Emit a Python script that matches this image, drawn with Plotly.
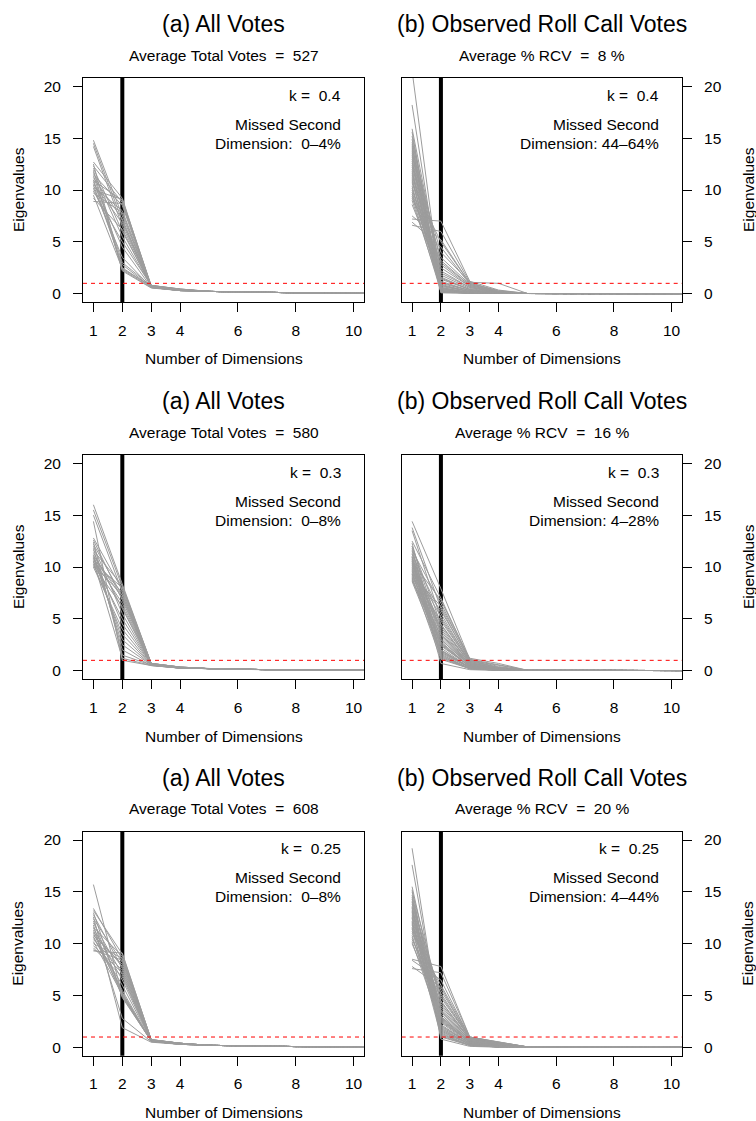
import plotly.graph_objects as go

# ---------------- data ----------------
X_DIMS = [1, 2, 3, 4, 5, 6, 7, 8, 9, 10, 11]
X_TICKS = [1, 2, 3, 4, 6, 8, 10]
Y_TICKS = [0, 5, 10, 15, 20]
CUTOFF_DIM = 2
KAISER = 1

# Row 1, left: All Votes, k = 0.4
P1_D1 = [14.8, 14.5, 14.2, 12.7, 12.5, 12.3, 12.1, 11.9, 11.7, 11.5, 11.4, 11.2, 11.0,
         10.9, 10.8, 10.6, 10.5, 10.3, 10.2, 10.0, 9.9, 9.7, 9.5, 9.2, 8.9]
P1_D2 = [7.5, 7.0, 6.5, 9.2, 2.3, 8.8, 6.0, 2.2, 5.5, 8.5, 3.0, 7.2, 2.5,
         9.0, 4.5, 6.8, 2.8, 8.0, 3.5, 9.1, 5.0, 7.8, 2.4, 6.2, 8.7]
P1_D3 = [0.8, 0.7, 0.75, 0.65, 0.6, 0.7, 0.8, 0.55, 0.7, 0.6, 0.75, 0.65, 0.7,
         0.8, 0.6, 0.7, 0.65, 0.75, 0.6, 0.7, 0.8, 0.6, 0.7, 0.65, 0.75]
P1_D4 = [0.4, 0.35, 0.4, 0.3, 0.35, 0.4, 0.45, 0.3, 0.35, 0.3, 0.4, 0.35, 0.4,
         0.45, 0.3, 0.35, 0.3, 0.4, 0.3, 0.35, 0.45, 0.3, 0.35, 0.3, 0.4]
P1_TAIL = [0.22, 0.16, 0.12, 0.09, 0.06, 0.04, 0.03]

# Row 1, right: Observed Roll Call Votes, k = 0.4
P2_D1 = [21.5, 18.2, 15.9, 15.6, 15.2, 14.9, 14.6, 14.4, 14.2, 14.0, 13.8, 13.6, 13.4,
         13.2, 13.0, 12.8, 12.6, 12.4, 12.2, 12.0, 11.8, 11.6, 11.4, 11.2, 11.0, 10.8,
         10.6, 10.4, 10.2, 10.0, 9.8, 9.6, 9.4, 9.2, 9.0, 8.6, 7.5, 7.2, 6.9, 6.6]
P2_D2 = [0.3, 0.5, 2.0, 0.2, 1.5, 0.4, 3.0, 0.8, 0.1, 2.5, 0.6, 1.2, 0.3,
         4.0, 0.9, 0.2, 1.8, 0.5, 3.5, 0.7, 0.2, 1.0, 2.2, 0.4, 0.1, 1.4,
         5.0, 0.6, 0.3, 2.8, 0.8, 1.1, 0.2, 3.2, 0.5, 1.6, 5.2, 7.0, 4.5, 6.0]
P2_D3 = [0.1, 0.1, 0.6, 0.05, 0.4, 0.1, 0.8, 0.2, 0.05, 0.7, 0.1, 0.3, 0.05,
         1.1, 0.2, 0.05, 0.5, 0.1, 0.9, 0.2, 0.05, 0.3, 0.6, 0.1, 0.05, 0.4,
         1.0, 0.1, 0.05, 0.7, 0.2, 0.3, 0.05, 0.8, 0.1, 0.4, 1.0, 1.2, 0.9, 1.1]
P2_D4 = [0.02, 0.03, 0.1, 0.02, 0.05, 0.02, 0.15, 0.03, 0.01, 0.1, 0.02, 0.05, 0.01,
         1.0, 0.03, 0.01, 0.08, 0.02, 0.2, 0.03, 0.01, 0.05, 0.1, 0.02, 0.01, 0.05,
         0.3, 0.02, 0.01, 0.1, 0.03, 0.05, 0.01, 0.15, 0.02, 0.06, 0.25, 0.35, 0.15, 0.2]
P2_TAIL = [0.02, 0.01, 0.01, 0.01, 0.01, 0.0, 0.0]

# Row 2, left: All Votes, k = 0.3
P3_D1 = [16.0, 15.5, 15.0, 14.4, 12.8, 12.6, 12.4, 12.2, 12.0, 11.8, 11.6, 11.4, 11.2,
         11.1, 11.0, 10.9, 10.8, 10.7, 10.6, 10.5, 10.4, 10.3, 10.2, 10.1, 10.0]
P3_D2 = [8.4, 8.0, 7.6, 1.0, 7.8, 6.8, 1.5, 7.2, 5.5, 2.0, 8.2, 6.0, 2.5,
         7.0, 4.5, 3.0, 7.5, 6.5, 1.2, 5.0, 8.0, 3.5, 7.3, 6.2, 4.0]
P3_D3 = [0.7, 0.65, 0.6, 0.5, 0.7, 0.6, 0.55, 0.65, 0.6, 0.5, 0.7, 0.6, 0.55,
         0.65, 0.6, 0.55, 0.7, 0.6, 0.5, 0.6, 0.7, 0.55, 0.65, 0.6, 0.55]
P3_D4 = [0.35, 0.3, 0.3, 0.25, 0.35, 0.3, 0.25, 0.3, 0.3, 0.25, 0.35, 0.3, 0.25,
         0.3, 0.3, 0.25, 0.35, 0.3, 0.25, 0.3, 0.35, 0.25, 0.3, 0.3, 0.25]
P3_TAIL = [0.2, 0.13, 0.1, 0.08, 0.05, 0.04, 0.03]

# Row 2, right: Observed Roll Call Votes, k = 0.3
P4_D1 = [14.4, 13.8, 13.5, 12.5, 12.3, 12.0, 11.8, 11.6, 11.5, 11.3, 11.2, 11.0, 10.9,
         10.8, 10.7, 10.6, 10.5, 10.4, 10.3, 10.2, 10.1, 10.0, 9.9, 9.8, 9.7, 9.6,
         9.5, 9.4, 9.3, 9.2, 9.1, 9.0, 8.9, 8.8, 8.7, 8.6, 9.3, 10.5, 11.0, 12.0]
P4_D2 = [7.9, 6.0, 5.0, 7.0, 2.0, 4.5, 1.5, 6.5, 3.0, 2.5, 5.5, 1.8, 4.0,
         0.7, 3.5, 2.2, 6.8, 1.2, 3.8, 2.8, 5.2, 1.6, 4.2, 2.4, 3.2, 1.4,
         5.8, 2.6, 1.9, 4.8, 3.4, 1.1, 2.0, 3.0, 2.7, 1.7, 6.2, 4.4, 1.3, 3.6]
P4_D3 = [1.1, 0.9, 0.8, 1.0, 0.3, 0.7, 0.2, 1.0, 0.5, 0.4, 0.8, 0.3, 0.6,
         0.1, 0.5, 0.3, 1.1, 0.2, 0.6, 0.4, 0.9, 0.2, 0.7, 0.4, 0.5, 0.2,
         1.0, 0.4, 0.3, 0.8, 0.6, 0.2, 0.3, 0.5, 0.4, 0.3, 1.2, 0.7, 0.2, 0.6]
P4_D4 = [0.6, 0.3, 0.2, 0.5, 0.05, 0.2, 0.05, 0.3, 0.1, 0.1, 0.2, 0.05, 0.15,
         0.02, 0.1, 0.05, 0.4, 0.05, 0.15, 0.1, 0.3, 0.05, 0.15, 0.1, 0.1, 0.05,
         0.3, 0.1, 0.05, 0.2, 0.15, 0.05, 0.05, 0.1, 0.1, 0.05, 0.7, 0.15, 0.05, 0.15]
P4_TAIL = [0.04, 0.03, 0.02, 0.02, 0.01, 0.01, 0.01]

# Row 3, left: All Votes, k = 0.25
P5_D1 = [15.7, 13.4, 13.2, 13.0, 12.8, 12.6, 12.4, 12.2, 12.0, 11.8, 11.6, 11.5, 11.3,
         11.1, 11.0, 10.8, 10.6, 10.4, 10.2, 10.0, 9.8, 9.6, 9.4, 9.3, 10.7]
P5_D2 = [5.0, 8.5, 9.0, 4.8, 7.6, 1.9, 8.2, 5.2, 7.0, 2.8, 8.8, 6.5, 4.9,
         7.8, 5.5, 8.0, 6.0, 7.4, 5.1, 8.6, 7.2, 6.8, 8.4, 9.1, 5.3]
P5_D3 = [0.6, 0.7, 0.75, 0.6, 0.65, 0.5, 0.7, 0.6, 0.65, 0.55, 0.75, 0.65, 0.6,
         0.7, 0.6, 0.7, 0.65, 0.7, 0.6, 0.75, 0.65, 0.65, 0.7, 0.75, 0.6]
P5_D4 = [0.35, 0.4, 0.4, 0.3, 0.35, 0.3, 0.4, 0.35, 0.35, 0.3, 0.4, 0.35, 0.3,
         0.4, 0.3, 0.4, 0.35, 0.35, 0.3, 0.4, 0.35, 0.35, 0.4, 0.4, 0.3]
P5_TAIL = [0.2, 0.14, 0.1, 0.08, 0.06, 0.04, 0.03]

# Row 3, right: Observed Roll Call Votes, k = 0.25
P6_D1 = [19.2, 17.6, 15.5, 15.2, 15.0, 14.7, 14.5, 14.3, 14.0, 13.8, 13.6, 13.4, 13.2,
         13.0, 12.8, 12.6, 12.4, 12.2, 12.0, 11.8, 11.6, 11.4, 11.2, 11.0, 10.8, 10.6,
         10.4, 10.2, 10.0, 12.5, 13.5, 14.1, 11.5, 12.1, 13.1, 11.9, 8.5, 8.4, 7.8, 7.6]
P6_D2 = [1.5, 2.0, 3.0, 1.0, 4.5, 2.5, 0.8, 3.5, 1.8, 5.0, 2.2, 1.2, 4.0,
         2.8, 1.6, 3.2, 5.5, 1.4, 2.6, 4.2, 1.1, 3.8, 2.4, 6.0, 1.9, 3.0,
         4.8, 2.1, 3.4, 1.3, 2.7, 4.4, 5.2, 1.7, 3.6, 2.9, 7.8, 6.5, 5.8, 7.2]
P6_D3 = [0.3, 0.4, 0.6, 0.2, 0.8, 0.5, 0.1, 0.7, 0.3, 0.9, 0.4, 0.2, 0.8,
         0.5, 0.3, 0.6, 1.0, 0.2, 0.5, 0.8, 0.2, 0.7, 0.4, 1.0, 0.3, 0.6,
         0.9, 0.4, 0.6, 0.2, 0.5, 0.8, 0.9, 0.3, 0.7, 0.5, 1.0, 0.9, 0.8, 1.0]
P6_D4 = [0.05, 0.1, 0.2, 0.03, 0.3, 0.1, 0.02, 0.2, 0.05, 0.4, 0.1, 0.05, 0.3,
         0.1, 0.05, 0.2, 0.45, 0.05, 0.1, 0.3, 0.03, 0.2, 0.1, 0.5, 0.05, 0.2,
         0.35, 0.1, 0.2, 0.05, 0.1, 0.3, 0.4, 0.05, 0.2, 0.1, 0.55, 0.45, 0.35, 0.5]
P6_TAIL = [0.05, 0.03, 0.02, 0.02, 0.01, 0.01, 0.01]

PANELS = [
    (P1_D1, P1_D2, P1_D3, P1_D4, P1_TAIL),
    (P2_D1, P2_D2, P2_D3, P2_D4, P2_TAIL),
    (P3_D1, P3_D2, P3_D3, P3_D4, P3_TAIL),
    (P4_D1, P4_D2, P4_D3, P4_D4, P4_TAIL),
    (P5_D1, P5_D2, P5_D3, P5_D4, P5_TAIL),
    (P6_D1, P6_D2, P6_D3, P6_D4, P6_TAIL),
]

TITLES = ["(a) All Votes", "(b) Observed Roll Call Votes"] * 3
SUBTITLES = ["Average Total Votes  =  527", "Average % RCV  =  8 %",
             "Average Total Votes  =  580", "Average % RCV  =  16 %",
             "Average Total Votes  =  608", "Average % RCV  =  20 %"]
K_LABELS = ["k =  0.4", "k =  0.4", "k =  0.3", "k =  0.3", "k =  0.25", "k =  0.25"]
MISSED = ["Dimension:  0–4%", "Dimension: 44–64%",
          "Dimension:  0–8%", "Dimension: 4–28%",
          "Dimension:  0–8%", "Dimension: 4–44%"]

# ---------------- layout geometry (pixels) ----------------
W, H = 756, 1121
FONT = "Liberation Sans, Arial, Helvetica, sans-serif"
COL_X = [(83, 364), (401.7, 682)]
ROW_OFF = [0, 377, 753.7]
BOX_TOP, BOX_BOT = 78, 302


def px(x):
    return x / W


def py(y):
    return 1 - y / H


def nb(s):
    return s.replace(" ", "\u00a0")


fig = go.Figure()
layout = dict(
    width=W, height=H, margin=dict(l=0, r=0, t=0, b=0),
    paper_bgcolor="white", plot_bgcolor="white", showlegend=False,
    font=dict(family=FONT, color="black", size=15.5),
)
annotations = []
shapes = []

for i, (d1, d2, d3, d4, tail) in enumerate(PANELS):
    row, col = divmod(i, 2)
    n = i + 1
    xs = "" if n == 1 else str(n)
    off = ROW_OFF[row]
    x0, x1 = COL_X[col]
    top, bot = BOX_TOP + off, BOX_BOT + off

    for j in range(len(d1)):
        fig.add_trace(go.Scatter(
            x=X_DIMS, y=[d1[j], d2[j], d3[j], d4[j]] + tail,
            mode="lines", line=dict(color="#9c9c9c", width=1),
            xaxis="x" + xs, yaxis="y" + xs, hoverinfo="skip", showlegend=False))

    layout["xaxis" + xs] = dict(
        domain=[px(x0), px(x1)], anchor="y" + xs, range=[0.64, 10.36],
        tickmode="array", tickvals=X_TICKS, ticktext=[str(t) for t in X_TICKS],
        ticks="outside", ticklen=9, tickwidth=1, tickcolor="black",
        showline=True, mirror=True, linecolor="black", linewidth=1,
        showgrid=False, zeroline=False, ticklabelstandoff=5,
        tickfont=dict(size=15.5, family=FONT, color="black"))
    layout["yaxis" + xs] = dict(
        domain=[py(bot), py(top)], anchor="x" + xs, range=[-0.8, 20.8],
        side="left" if col == 0 else "right",
        tickmode="array", tickvals=Y_TICKS, ticktext=[str(t) for t in Y_TICKS],
        ticks="outside", ticklen=9, tickwidth=1, tickcolor="black",
        showline=True, mirror=True, linecolor="black", linewidth=1,
        showgrid=False, zeroline=False, ticklabelstandoff=9,
        tickfont=dict(size=15.5, family=FONT, color="black"))

    # thick vertical line at chosen dimension (below traces)
    shapes.append(dict(type="line", xref="x" + xs, yref="y" + xs + " domain",
                       x0=CUTOFF_DIM, x1=CUTOFF_DIM, y0=0, y1=1, layer="below",
                       line=dict(color="black", width=4)))
    # red dashed reference line at eigenvalue 1
    shapes.append(dict(type="line", xref="x" + xs + " domain", yref="y" + xs,
                       x0=0, x1=1, y0=KAISER, y1=KAISER, layer="above",
                       line=dict(color="#ff0000", width=1, dash="4px,4px")))

    cx = (x0 + x1) / 2
    annotations += [
        dict(text=TITLES[i], x=px(cx), y=py(24 + off), xref="paper", yref="paper",
             showarrow=False, xanchor="center", yanchor="middle", font=dict(size=23)),
        dict(text=nb(SUBTITLES[i]), x=px(cx), y=py(55 + off), xref="paper", yref="paper",
             showarrow=False, xanchor="center", yanchor="middle", font=dict(size=15.5)),
        dict(text="Number of Dimensions", x=px(cx), y=py(359 + off), xref="paper",
             yref="paper", showarrow=False, xanchor="center", yanchor="middle",
             font=dict(size=15.5)),
        dict(text="Eigenvalues", x=px(18 if col == 0 else 748), y=py((top + bot) / 2),
             xref="paper", yref="paper", showarrow=False, textangle=-90,
             xanchor="center", yanchor="middle", font=dict(size=15.5)),
        dict(text=nb(K_LABELS[i]), x=px(x1 - 21), y=py(95 + off), xref="paper",
             yref="paper", showarrow=False, xanchor="right", yanchor="middle",
             font=dict(size=15.5)),
        dict(text="Missed Second", x=px(x1 - 21), y=py(124 + off), xref="paper",
             yref="paper", showarrow=False, xanchor="right", yanchor="middle",
             font=dict(size=15.5)),
        dict(text=nb(MISSED[i]), x=px(x1 - 21), y=py(143 + off), xref="paper",
             yref="paper", showarrow=False, xanchor="right", yanchor="middle",
             font=dict(size=15.5)),
    ]

layout["annotations"] = annotations
layout["shapes"] = shapes
fig.update_layout(**layout)
fig.write_html("out.html")
